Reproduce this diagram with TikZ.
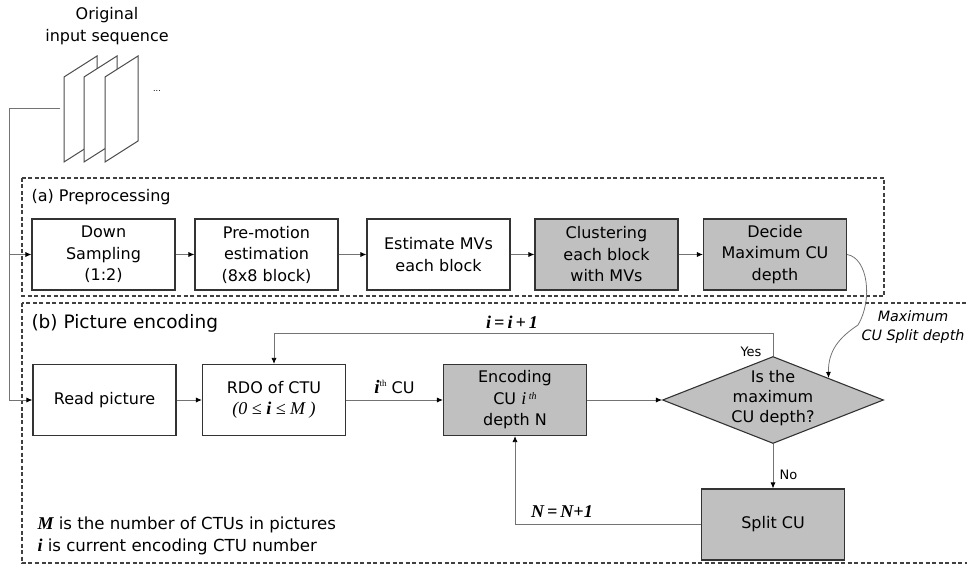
\documentclass[tikz,border=0pt]{standalone}
\usepackage{fontspec}
\setmainfont{DejaVu Sans}
\newfontfamily\tmsfont{Liberation Serif}
\usetikzlibrary{arrows.meta, shapes.geometric, calc}
\definecolor{boxgray}{RGB}{192,192,192}
\newcommand{\bi}[1]{{\tmsfont\bfseries\itshape #1}}
\tikzset{
    >={Latex[length=6pt, width=5pt, black]},
    every node/.style={font=\fontsize{16}{21.5}\selectfont},
    proc/.style={draw=black!80, line width=1.1pt, minimum width=143pt, minimum height=71pt, align=center, inner sep=0pt},
    procg/.style={proc, fill=boxgray},
    decision/.style={draw=black!80, line width=1.1pt, fill=boxgray, shape=diamond, minimum width=221pt, minimum height=87pt, inner sep=0pt},
    flow/.style={->, draw=black!55, line width=0.8pt},
    region/.style={draw=black!75, line width=1.1pt, dash pattern=on 4pt off 2.5pt},
    sheet/.style={draw=black!70, fill=white, line width=1pt},
    mathlbl/.style={font=\tmsfont\bfseries\itshape\fontsize{18}{20}\selectfont},
    small/.style={font=\fontsize{13}{13}\selectfont},
    note/.style={anchor=west, font=\fontsize{16.6}{20}\selectfont},
}

\begin{document}
\begin{tikzpicture}[x=1pt, y=-1pt]
    \useasboundingbox (0,0) rectangle (967,569);
    % input frames
    \node[align=center] (title) at (107,26) {Original\\input sequence};
    \foreach \l in {64,84,105}
        \draw[sheet] (\l,162) -- (\l,77) -- (\l+33,56) -- (\l+33,141) -- cycle;
    \node[font=\fontsize{8}{8}\selectfont] (more) at (157,91) {...};
    % dashed regions
    \draw[region] (22,178) rectangle (884,296);
    \draw[region] (22,303) rectangle (975,563);
    \node[anchor=west] (prepLbl) at (28,197) {(a) Preprocessing};
    \node[anchor=west, font=\fontsize{18.5}{20}\selectfont] (encLbl) at (28,323) {(b) Picture encoding};
    % preprocessing
    \node[proc] (down) at (103.5,254.5) {Down\\Sampling\\(1:2)};
    \node[proc] (premot) at (266.5,254.5) {Pre-motion\\estimation\\(8x8 block)};
    \node[proc] (estmv) at (438.5,254.5) {Estimate MVs\\each block};
    \node[procg] (clust) at (606.5,254.5) {Clustering\\each block\\with MVs};
    \node[procg] (decide) at (775,254.5) {Decide\\Maximum CU\\depth};
    \foreach \a/\b in {down/premot,premot/estmv,estmv/clust,clust/decide}
        \draw[flow] (\a) -- (\b);
    % picture encoding
    \node[proc] (read) at (104.5,400) {Read picture};
    \node[proc] (rdo) at (274,400) {RDO of CTU\\{\tmsfont\itshape\fontsize{18}{20}\selectfont (0 ≤ \bfseries i \mdseries≤ M )}};
    \node[procg] (enc) at (515,400) {Encoding\\CU {\tmsfont\itshape\fontsize{18}{18}\selectfont i}\,\raisebox{0.6ex}{\tmsfont\itshape\fontsize{10}{10}\selectfont th}\\depth N};
    \node[decision] (dec) at (773,400) {};
    \node[align=center, font=\fontsize{16}{20}\selectfont] (decText) at (773,398) {Is the\\maximum\\CU depth?};
    \node[procg] (split) at (773,524.5) {Split CU};
    % input line
    \coordinate (src) at (60,108);
    \coordinate (trunk) at (9,108);
    \draw[flow] (src) -- (trunk) |- (read.west);
    \draw[flow] (trunk |- down.west) -- (down.west);
    % flow
    \draw[flow] (read) -- (rdo);
    \draw[flow] (rdo) -- node[above=3pt] {\bi{\fontsize{19}{19}\selectfont i}\raisebox{0.7ex}{\tmsfont\fontsize{9}{9}\selectfont th}\ CU} (enc);
    \draw[flow] (enc) -- (dec.west);
    \draw[flow] (dec.south) -- node[small, right=3pt, pos=0.7] {No} (split.north);
    \draw[flow] (dec.north) -- ++(0,-23) -| (rdo.north);
    \node[small] (yes) at (751,352) {Yes};
    \node[mathlbl] (incI) at (512,322) {i\,=\,i\,+\,1};
    \draw[flow] (split.west) -| (enc.south);
    \node[mathlbl] (incN) at (562,512) {N\,=\,N+1};
    % max depth hint
    \draw[flow] (decide.east) .. controls (868,258) and (873,300) .. (858,325)
        .. controls (840,337) and (828,350) .. (dec.north east);
    \node[align=center, font=\itshape\fontsize{14.3}{19}\selectfont] (hint) at (913,327) {Maximum\\CU Split depth};
    % notes
    \node[note] (noteM) at (34,525) {\bi{\fontsize{18}{18}\selectfont M} is the number of CTUs in pictures};
    \node[note] (noteI) at (34,547) {\bi{\fontsize{18}{18}\selectfont i} is current encoding CTU number};
\end{tikzpicture}
\end{document}
